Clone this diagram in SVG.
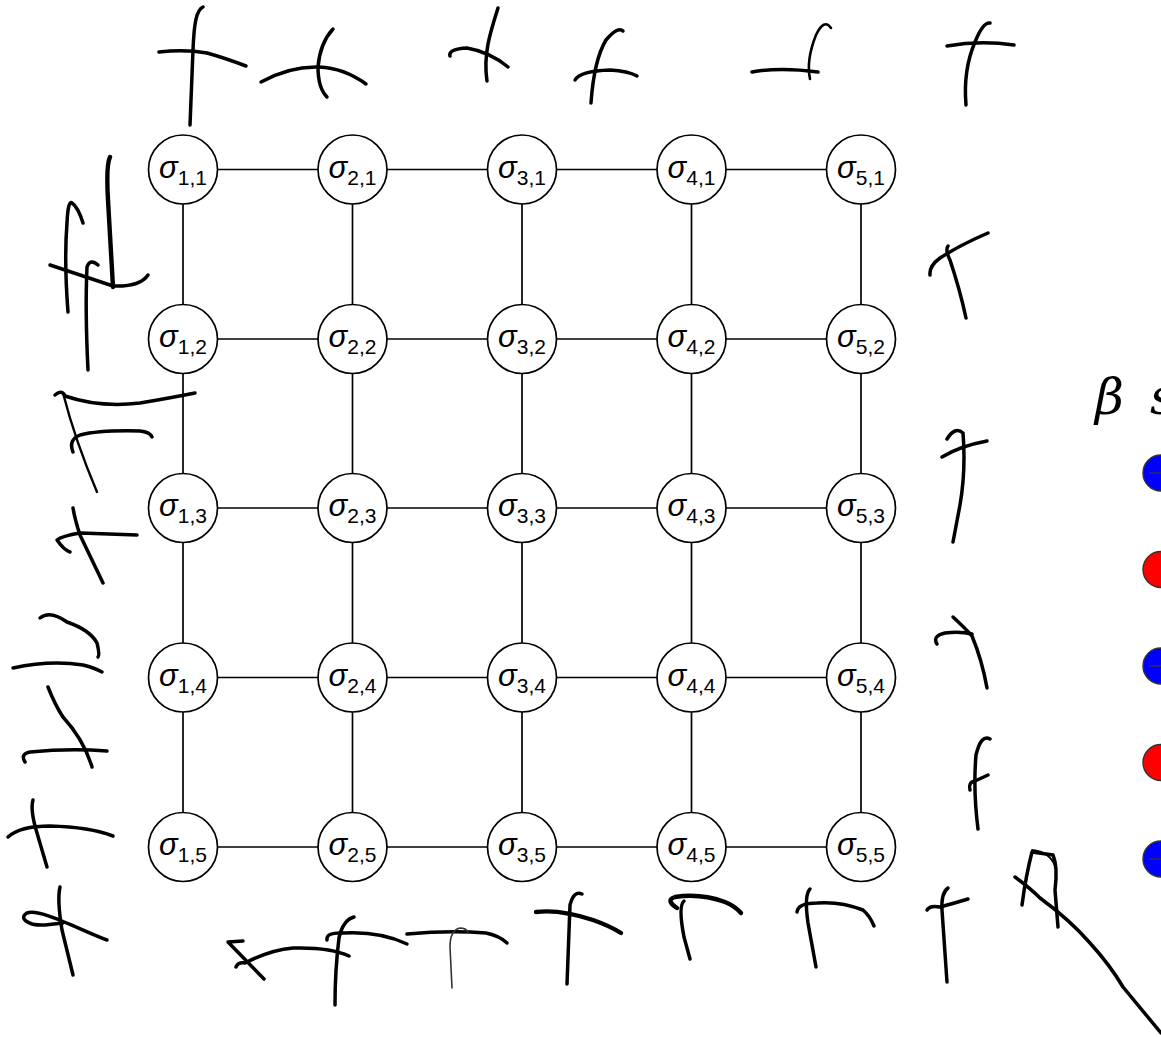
<svg xmlns="http://www.w3.org/2000/svg" width="1161" height="1037" viewBox="0 0 1161 1037">
<style>
.node circle{fill:#fff;stroke:#000;stroke-width:1.7}
.lbl{font-family:"Liberation Sans",Arial,sans-serif;fill:#000}
.sg{font-size:31px;font-style:italic}
.sb{font-size:21px}
.edge{stroke:#000;stroke-width:1.7}
.ink{fill:none;stroke:#000;stroke-width:3.5;stroke-linecap:round;stroke-linejoin:round}
.thk{stroke-width:4.4}
.thn{stroke-width:1.6;stroke:#333}
.spin{stroke:#333;stroke-width:1.4}
</style>
<rect width="1161" height="1037" fill="#fff"/>
<g id="connectors">
<line class="edge" x1="217.5" y1="169.5" x2="318" y2="169.5"/><line class="edge" x1="387" y1="169.5" x2="487.5" y2="169.5"/><line class="edge" x1="556.5" y1="169.5" x2="657" y2="169.5"/><line class="edge" x1="726" y1="169.5" x2="826.5" y2="169.5"/>
<line class="edge" x1="217.5" y1="339" x2="318" y2="339"/><line class="edge" x1="387" y1="339" x2="487.5" y2="339"/><line class="edge" x1="556.5" y1="339" x2="657" y2="339"/><line class="edge" x1="726" y1="339" x2="826.5" y2="339"/>
<line class="edge" x1="217.5" y1="508" x2="318" y2="508"/><line class="edge" x1="387" y1="508" x2="487.5" y2="508"/><line class="edge" x1="556.5" y1="508" x2="657" y2="508"/><line class="edge" x1="726" y1="508" x2="826.5" y2="508"/>
<line class="edge" x1="217.5" y1="677.5" x2="318" y2="677.5"/><line class="edge" x1="387" y1="677.5" x2="487.5" y2="677.5"/><line class="edge" x1="556.5" y1="677.5" x2="657" y2="677.5"/><line class="edge" x1="726" y1="677.5" x2="826.5" y2="677.5"/>
<line class="edge" x1="217.5" y1="847" x2="318" y2="847"/><line class="edge" x1="387" y1="847" x2="487.5" y2="847"/><line class="edge" x1="556.5" y1="847" x2="657" y2="847"/><line class="edge" x1="726" y1="847" x2="826.5" y2="847"/>
<line class="edge" x1="183" y1="204" x2="183" y2="304.5"/><line class="edge" x1="183" y1="373.5" x2="183" y2="473.5"/><line class="edge" x1="183" y1="542.5" x2="183" y2="643"/><line class="edge" x1="183" y1="712" x2="183" y2="812.5"/>
<line class="edge" x1="352.5" y1="204" x2="352.5" y2="304.5"/><line class="edge" x1="352.5" y1="373.5" x2="352.5" y2="473.5"/><line class="edge" x1="352.5" y1="542.5" x2="352.5" y2="643"/><line class="edge" x1="352.5" y1="712" x2="352.5" y2="812.5"/>
<line class="edge" x1="522" y1="204" x2="522" y2="304.5"/><line class="edge" x1="522" y1="373.5" x2="522" y2="473.5"/><line class="edge" x1="522" y1="542.5" x2="522" y2="643"/><line class="edge" x1="522" y1="712" x2="522" y2="812.5"/>
<line class="edge" x1="691.5" y1="204" x2="691.5" y2="304.5"/><line class="edge" x1="691.5" y1="373.5" x2="691.5" y2="473.5"/><line class="edge" x1="691.5" y1="542.5" x2="691.5" y2="643"/><line class="edge" x1="691.5" y1="712" x2="691.5" y2="812.5"/>
<line class="edge" x1="861" y1="204" x2="861" y2="304.5"/><line class="edge" x1="861" y1="373.5" x2="861" y2="473.5"/><line class="edge" x1="861" y1="542.5" x2="861" y2="643"/><line class="edge" x1="861" y1="712" x2="861" y2="812.5"/>
</g>
<g id="n11" class="node"><circle cx="183" cy="169.5" r="34.5"/><text class="lbl" x="183" y="177.5" text-anchor="middle"><tspan class="sg">σ</tspan><tspan class="sb" dy="7">1,1</tspan></text></g>
<g id="n21" class="node"><circle cx="352.5" cy="169.5" r="34.5"/><text class="lbl" x="352.5" y="177.5" text-anchor="middle"><tspan class="sg">σ</tspan><tspan class="sb" dy="7">2,1</tspan></text></g>
<g id="n31" class="node"><circle cx="522" cy="169.5" r="34.5"/><text class="lbl" x="522" y="177.5" text-anchor="middle"><tspan class="sg">σ</tspan><tspan class="sb" dy="7">3,1</tspan></text></g>
<g id="n41" class="node"><circle cx="691.5" cy="169.5" r="34.5"/><text class="lbl" x="691.5" y="177.5" text-anchor="middle"><tspan class="sg">σ</tspan><tspan class="sb" dy="7">4,1</tspan></text></g>
<g id="n51" class="node"><circle cx="861" cy="169.5" r="34.5"/><text class="lbl" x="861" y="177.5" text-anchor="middle"><tspan class="sg">σ</tspan><tspan class="sb" dy="7">5,1</tspan></text></g>
<g id="n12" class="node"><circle cx="183" cy="339" r="34.5"/><text class="lbl" x="183" y="347" text-anchor="middle"><tspan class="sg">σ</tspan><tspan class="sb" dy="7">1,2</tspan></text></g>
<g id="n22" class="node"><circle cx="352.5" cy="339" r="34.5"/><text class="lbl" x="352.5" y="347" text-anchor="middle"><tspan class="sg">σ</tspan><tspan class="sb" dy="7">2,2</tspan></text></g>
<g id="n32" class="node"><circle cx="522" cy="339" r="34.5"/><text class="lbl" x="522" y="347" text-anchor="middle"><tspan class="sg">σ</tspan><tspan class="sb" dy="7">3,2</tspan></text></g>
<g id="n42" class="node"><circle cx="691.5" cy="339" r="34.5"/><text class="lbl" x="691.5" y="347" text-anchor="middle"><tspan class="sg">σ</tspan><tspan class="sb" dy="7">4,2</tspan></text></g>
<g id="n52" class="node"><circle cx="861" cy="339" r="34.5"/><text class="lbl" x="861" y="347" text-anchor="middle"><tspan class="sg">σ</tspan><tspan class="sb" dy="7">5,2</tspan></text></g>
<g id="n13" class="node"><circle cx="183" cy="508" r="34.5"/><text class="lbl" x="183" y="516" text-anchor="middle"><tspan class="sg">σ</tspan><tspan class="sb" dy="7">1,3</tspan></text></g>
<g id="n23" class="node"><circle cx="352.5" cy="508" r="34.5"/><text class="lbl" x="352.5" y="516" text-anchor="middle"><tspan class="sg">σ</tspan><tspan class="sb" dy="7">2,3</tspan></text></g>
<g id="n33" class="node"><circle cx="522" cy="508" r="34.5"/><text class="lbl" x="522" y="516" text-anchor="middle"><tspan class="sg">σ</tspan><tspan class="sb" dy="7">3,3</tspan></text></g>
<g id="n43" class="node"><circle cx="691.5" cy="508" r="34.5"/><text class="lbl" x="691.5" y="516" text-anchor="middle"><tspan class="sg">σ</tspan><tspan class="sb" dy="7">4,3</tspan></text></g>
<g id="n53" class="node"><circle cx="861" cy="508" r="34.5"/><text class="lbl" x="861" y="516" text-anchor="middle"><tspan class="sg">σ</tspan><tspan class="sb" dy="7">5,3</tspan></text></g>
<g id="n14" class="node"><circle cx="183" cy="677.5" r="34.5"/><text class="lbl" x="183" y="685.5" text-anchor="middle"><tspan class="sg">σ</tspan><tspan class="sb" dy="7">1,4</tspan></text></g>
<g id="n24" class="node"><circle cx="352.5" cy="677.5" r="34.5"/><text class="lbl" x="352.5" y="685.5" text-anchor="middle"><tspan class="sg">σ</tspan><tspan class="sb" dy="7">2,4</tspan></text></g>
<g id="n34" class="node"><circle cx="522" cy="677.5" r="34.5"/><text class="lbl" x="522" y="685.5" text-anchor="middle"><tspan class="sg">σ</tspan><tspan class="sb" dy="7">3,4</tspan></text></g>
<g id="n44" class="node"><circle cx="691.5" cy="677.5" r="34.5"/><text class="lbl" x="691.5" y="685.5" text-anchor="middle"><tspan class="sg">σ</tspan><tspan class="sb" dy="7">4,4</tspan></text></g>
<g id="n54" class="node"><circle cx="861" cy="677.5" r="34.5"/><text class="lbl" x="861" y="685.5" text-anchor="middle"><tspan class="sg">σ</tspan><tspan class="sb" dy="7">5,4</tspan></text></g>
<g id="n15" class="node"><circle cx="183" cy="847" r="34.5"/><text class="lbl" x="183" y="855" text-anchor="middle"><tspan class="sg">σ</tspan><tspan class="sb" dy="7">1,5</tspan></text></g>
<g id="n25" class="node"><circle cx="352.5" cy="847" r="34.5"/><text class="lbl" x="352.5" y="855" text-anchor="middle"><tspan class="sg">σ</tspan><tspan class="sb" dy="7">2,5</tspan></text></g>
<g id="n35" class="node"><circle cx="522" cy="847" r="34.5"/><text class="lbl" x="522" y="855" text-anchor="middle"><tspan class="sg">σ</tspan><tspan class="sb" dy="7">3,5</tspan></text></g>
<g id="n45" class="node"><circle cx="691.5" cy="847" r="34.5"/><text class="lbl" x="691.5" y="855" text-anchor="middle"><tspan class="sg">σ</tspan><tspan class="sb" dy="7">4,5</tspan></text></g>
<g id="n55" class="node"><circle cx="861" cy="847" r="34.5"/><text class="lbl" x="861" y="855" text-anchor="middle"><tspan class="sg">σ</tspan><tspan class="sb" dy="7">5,5</tspan></text></g>
<g id="ink">
<path class="ink" d="M203,7 C196,10 194,25 193,50 L190,125"/>
<path class="ink" d="M159,52 Q185,49 207,53 Q225,58 246,66"/>
<path class="ink" d="M261,82 Q290,66 319,67 Q344,68 366,84"/>
<path class="ink" d="M333,29 Q320,43 318,67 Q318,88 327,97"/>
<path class="ink" d="M498,8 C490,33 483,55 487,81"/>
<path class="ink" d="M450,56 Q448,49 467,48 Q490,52 508,67"/>
<path class="ink" d="M575,80 Q580,71 610,70 Q628,71 637,76"/>
<path class="ink" d="M623,31 Q618,26 606,40 Q594,60 591,103"/>
<path class="ink" d="M752,72 Q780,67 818,72"/>
<path class="ink" style="stroke-width:2.6" d="M831,28 Q824,18 816,35 Q806,60 810,79"/>
<path class="ink" d="M947,46 Q980,40 1014,45"/>
<path class="ink" d="M990,23 Q983,22 975,42 Q963,70 966,105"/>
<path class="ink thk" d="M110,157 Q106,165 108,200 L113,287"/>
<path class="ink" d="M50,265 Q80,275 113,286 Q140,287 148,275"/>
<path class="ink" d="M68,312 Q64,260 67,223 Q68,200 72,203 Q78,207 83,223"/>
<path class="ink" d="M88,370 Q85,310 87,267 Q90,258 98,265"/>
<path class="ink" d="M55,395 Q62,389 65,396 Q100,408 140,403 Q170,398 195,393"/>
<path class="ink" style="stroke-width:2.4" d="M63,393 Q75,440 97,492"/>
<path class="ink" d="M73,452 Q68,440 80,435 Q100,430 140,431 Q150,432 152,437"/>
<path class="ink" d="M73,508 Q75,520 80,535 Q92,560 103,583"/>
<path class="ink" d="M137,535 L80,533 Q62,536 57,540 Q64,550 70,552"/>
<path class="ink" d="M40,618 Q50,610 67,622 Q90,630 97,643 Q100,655 98,657"/>
<path class="ink" d="M13,668 Q50,660 83,665 Q95,668 102,672"/>
<path class="ink" d="M48,687 Q55,705 63,717 Q84,740 92,767"/>
<path class="ink" d="M25,762 Q20,754 30,752 Q70,748 107,751"/>
<path class="ink" d="M8,837 Q20,826 50,826 Q90,827 113,836"/>
<path class="ink" d="M33,800 Q30,810 37,833 L47,867"/>
<path class="ink" d="M107,940 C80,930 40,908 27,913 C18,918 28,926 45,925 L63,923"/>
<path class="ink" d="M60,887 Q57,900 62,930 L73,975"/>
<path class="ink" d="M243,941 L228,942 L264,979"/>
<path class="ink" d="M236,967 Q238,962 245,963 Q270,950 293,948 Q330,947 349,956"/>
<path class="ink" d="M354,917 Q343,920 339,938 Q335,970 335,1005"/>
<path class="ink" d="M327,940 Q326,932 343,933 Q380,931 407,944"/>
<path class="ink" d="M407,934 Q450,930 486,933 Q500,936 507,943"/>
<path class="ink thn" d="M452,988 L450,947 Q450,930 460,928 Q466,928 468,932"/>
<path class="ink thk" d="M536,912 Q560,909 593,920 Q610,926 621,933"/>
<path class="ink" d="M582,894 Q574,890 570,905 L567,984"/>
<path class="ink thk" d="M677,908 Q665,900 675,897 Q700,893 725,902 Q735,906 741,913"/>
<path class="ink" d="M684,901 Q678,906 684,937 L690,959"/>
<path class="ink" d="M797,912 Q798,903 817,903 Q840,901 863,910 Q870,916 874,926"/>
<path class="ink" d="M810,889 Q804,895 808,923 L816,967"/>
<path class="ink" d="M948,888 Q941,893 942,910 L947,982"/>
<path class="ink" d="M927,910 Q930,905 940,907 Q955,903 968,899"/>
<path class="ink" d="M1022,905 Q1026,875 1032,852 L1053,855 Q1058,867 1055,890 L1058,927"/>
<path class="ink" style="stroke-width:1.8" d="M1032,850 Q1050,852 1055,866"/>
<path class="ink" d="M1015,877 Q1030,888 1040,898 Q1070,920 1090,943 Q1110,965 1123,987 L1161,1033"/>
<path class="ink" d="M930,275 Q929,266 940,258 Q960,245 988,233"/>
<path class="ink" d="M948,246 Q945,250 950,260 Q960,290 966,318"/>
<path class="ink" d="M947,439 Q955,426 963,433 Q966,470 960,505 L953,542"/>
<path class="ink" d="M942,457 Q960,446 987,441"/>
<path class="ink" d="M937,644 Q932,636 945,633 Q960,631 972,634"/>
<path class="ink" d="M953,617 Q965,628 972,636 Q982,660 987,688"/>
<path class="ink" d="M990,739 Q981,734 976,755 Q973,790 978,829"/>
<path class="ink" d="M970,790 Q968,782 975,781 L988,775"/>
</g>
<g id="legend">
<text x="1095" y="414" font-family="'DejaVu Serif','Liberation Serif',serif" font-style="italic" font-size="50" fill="#000">β<tspan x="1150">s</tspan></text>
<circle cx="1161" cy="473" r="18" fill="#0000ff" stroke="#333" stroke-width="1.4"/>
<line class="spin" x1="1149" y1="473" x2="1161" y2="473"/>
<circle cx="1161" cy="569.5" r="18" fill="#ff0000" stroke="#333" stroke-width="1.4"/>
<circle cx="1161" cy="666" r="18" fill="#0000ff" stroke="#333" stroke-width="1.4"/>
<line class="spin" x1="1149" y1="666" x2="1161" y2="666"/>
<circle cx="1161" cy="762.5" r="18" fill="#ff0000" stroke="#333" stroke-width="1.4"/>
<circle cx="1161" cy="859" r="18" fill="#0000ff" stroke="#333" stroke-width="1.4"/>
<line class="spin" x1="1149" y1="859" x2="1161" y2="859"/>
</g>
</svg>
